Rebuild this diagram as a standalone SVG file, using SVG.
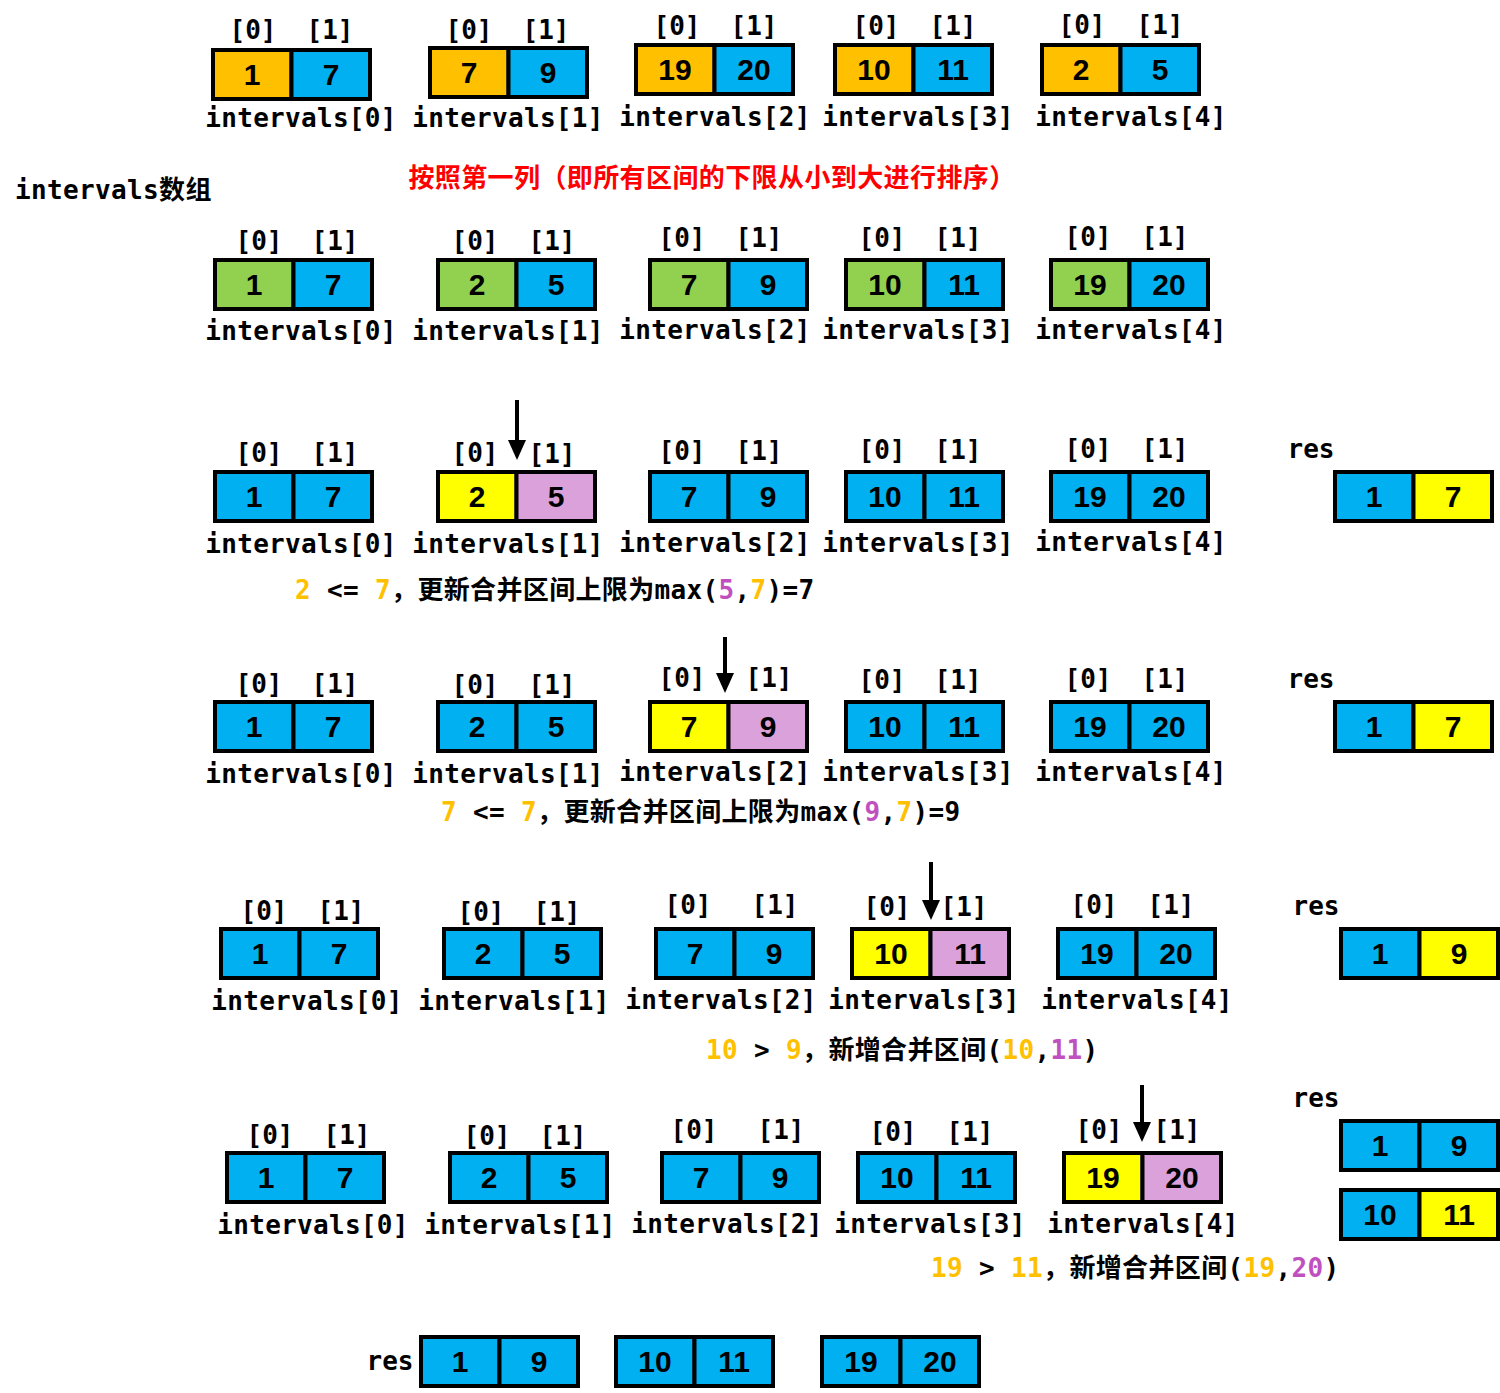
<svg xmlns="http://www.w3.org/2000/svg" width="1500" height="1393" viewBox="0 0 1500 1393">
<style>
text{font-family:"DejaVu Sans Mono","Noto Sans CJK SC",monospace;font-weight:bold;fill:#000}
.idx{font-size:26px;text-anchor:middle}
.name{font-size:26px;text-anchor:middle;letter-spacing:0.3px}
.num{font-family:"Liberation Sans","Noto Sans",sans-serif;font-size:30px;text-anchor:middle}
.cap{font-size:26px;letter-spacing:0.35px}
.red{font-family:"Noto Sans CJK SC",sans-serif;font-size:26px;fill:#FF0000;text-anchor:middle;letter-spacing:0.4px}
.c{stroke:#000;stroke-width:4}
.o{fill:#FFC000}.b{fill:#00B0F0}.g{fill:#92D050}.y{fill:#FFFF00}.p{fill:#DBA1DB}
.ot{fill:#FFC000}.pt{fill:#C050C0}
.arrow{stroke:#000;stroke-width:4;fill:none}
</style>
<defs>
<marker id="ah" viewBox="0 0 20 18" refX="8" refY="9" markerWidth="20" markerHeight="18" markerUnits="userSpaceOnUse" orient="auto">
<path d="M0,0 L20,9 L0,18 z" fill="#000"/>
</marker>
</defs>
<rect width="1500" height="1393" fill="#fff"/>

<text id="title" class="cap" x="15" y="199">intervals数组</text>
<text id="sort-note" class="red" x="712" y="187">按照第一列（即所有区间的下限从小到大进行排序）</text>

<!-- Row 1 -->
<g id="r1-i0"><rect class="c o" x="213" y="50" width="78.5" height="49"/><rect class="c b" x="291.5" y="50" width="78.5" height="49"/>
<text class="num" x="252" y="85">1</text><text class="num" x="331" y="85">7</text>
<text class="idx" x="253" y="39">[0]</text><text class="idx" x="330" y="39">[1]</text><text class="name" x="301" y="127">intervals[0]</text></g>
<g id="r1-i1"><rect class="c o" x="430" y="48" width="78.5" height="49"/><rect class="c b" x="508.5" y="48" width="78.5" height="49"/>
<text class="num" x="469" y="83">7</text><text class="num" x="548" y="83">9</text>
<text class="idx" x="469" y="39">[0]</text><text class="idx" x="546" y="39">[1]</text><text class="name" x="508" y="127">intervals[1]</text></g>
<g id="r1-i2"><rect class="c o" x="636" y="45" width="78.5" height="49"/><rect class="c b" x="714.5" y="45" width="78.5" height="49"/>
<text class="num" x="675" y="80">19</text><text class="num" x="754" y="80">20</text>
<text class="idx" x="677" y="35">[0]</text><text class="idx" x="754" y="35">[1]</text><text class="name" x="715" y="126">intervals[2]</text></g>
<g id="r1-i3"><rect class="c o" x="835" y="45" width="78.5" height="49"/><rect class="c b" x="913.5" y="45" width="78.5" height="49"/>
<text class="num" x="874" y="80">10</text><text class="num" x="953" y="80">11</text>
<text class="idx" x="876" y="35">[0]</text><text class="idx" x="953" y="35">[1]</text><text class="name" x="918" y="126">intervals[3]</text></g>
<g id="r1-i4"><rect class="c o" x="1042" y="45" width="78.5" height="49"/><rect class="c b" x="1120.5" y="45" width="78.5" height="49"/>
<text class="num" x="1081" y="80">2</text><text class="num" x="1160" y="80">5</text>
<text class="idx" x="1082" y="34">[0]</text><text class="idx" x="1160" y="34">[1]</text><text class="name" x="1131" y="126">intervals[4]</text></g>

<!-- Row 2 (sorted) -->
<g id="r2-i0"><rect class="c g" x="215" y="260" width="78.5" height="49"/><rect class="c b" x="293.5" y="260" width="78.5" height="49"/>
<text class="num" x="254" y="295">1</text><text class="num" x="333" y="295">7</text>
<text class="idx" x="259" y="250">[0]</text><text class="idx" x="335" y="250">[1]</text><text class="name" x="301" y="340">intervals[0]</text></g>
<g id="r2-i1"><rect class="c g" x="438" y="260" width="78.5" height="49"/><rect class="c b" x="516.5" y="260" width="78.5" height="49"/>
<text class="num" x="477" y="295">2</text><text class="num" x="556" y="295">5</text>
<text class="idx" x="475" y="250">[0]</text><text class="idx" x="552" y="250">[1]</text><text class="name" x="508" y="340">intervals[1]</text></g>
<g id="r2-i2"><rect class="c g" x="650" y="260" width="78.5" height="49"/><rect class="c b" x="728.5" y="260" width="78.5" height="49"/>
<text class="num" x="689" y="295">7</text><text class="num" x="768" y="295">9</text>
<text class="idx" x="682" y="247">[0]</text><text class="idx" x="759" y="247">[1]</text><text class="name" x="715" y="339">intervals[2]</text></g>
<g id="r2-i3"><rect class="c g" x="846" y="260" width="78.5" height="49"/><rect class="c b" x="924.5" y="260" width="78.5" height="49"/>
<text class="num" x="885" y="295">10</text><text class="num" x="964" y="295">11</text>
<text class="idx" x="882" y="247">[0]</text><text class="idx" x="958" y="247">[1]</text><text class="name" x="918" y="339">intervals[3]</text></g>
<g id="r2-i4"><rect class="c g" x="1051" y="260" width="78.5" height="49"/><rect class="c b" x="1129.5" y="260" width="78.5" height="49"/>
<text class="num" x="1090" y="295">19</text><text class="num" x="1169" y="295">20</text>
<text class="idx" x="1088" y="246">[0]</text><text class="idx" x="1165" y="246">[1]</text><text class="name" x="1131" y="339">intervals[4]</text></g>

<!-- Row 3 -->
<g id="r3-i0"><rect class="c b" x="215" y="472" width="78.5" height="49"/><rect class="c b" x="293.5" y="472" width="78.5" height="49"/>
<text class="num" x="254" y="507">1</text><text class="num" x="333" y="507">7</text>
<text class="idx" x="259" y="462">[0]</text><text class="idx" x="335" y="462">[1]</text><text class="name" x="301" y="553">intervals[0]</text></g>
<g id="r3-i1"><rect class="c y" x="438" y="472" width="78.5" height="49"/><rect class="c p" x="516.5" y="472" width="78.5" height="49"/>
<text class="num" x="477" y="507">2</text><text class="num" x="556" y="507">5</text>
<text class="idx" x="475" y="462">[0]</text><text class="idx" x="552" y="463">[1]</text><text class="name" x="508" y="553">intervals[1]</text></g>
<g id="r3-i2"><rect class="c b" x="650" y="472" width="78.5" height="49"/><rect class="c b" x="728.5" y="472" width="78.5" height="49"/>
<text class="num" x="689" y="507">7</text><text class="num" x="768" y="507">9</text>
<text class="idx" x="682" y="460">[0]</text><text class="idx" x="759" y="460">[1]</text><text class="name" x="715" y="552">intervals[2]</text></g>
<g id="r3-i3"><rect class="c b" x="846" y="472" width="78.5" height="49"/><rect class="c b" x="924.5" y="472" width="78.5" height="49"/>
<text class="num" x="885" y="507">10</text><text class="num" x="964" y="507">11</text>
<text class="idx" x="882" y="459">[0]</text><text class="idx" x="958" y="459">[1]</text><text class="name" x="918" y="552">intervals[3]</text></g>
<g id="r3-i4"><rect class="c b" x="1051" y="472" width="78.5" height="49"/><rect class="c b" x="1129.5" y="472" width="78.5" height="49"/>
<text class="num" x="1090" y="507">19</text><text class="num" x="1169" y="507">20</text>
<text class="idx" x="1088" y="458">[0]</text><text class="idx" x="1165" y="458">[1]</text><text class="name" x="1131" y="551">intervals[4]</text></g>
<g id="r3-res"><text class="idx" x="1311" y="458">res</text>
<rect class="c b" x="1335" y="472" width="78.5" height="49"/><rect class="c y" x="1413.5" y="472" width="78.5" height="49"/>
<text class="num" x="1374" y="507">1</text><text class="num" x="1453" y="507">7</text></g>
<text id="r3-cap" class="cap" x="295" y="599"><tspan class="ot">2</tspan> &lt;= <tspan class="ot">7</tspan>，更新合并区间上限为max(<tspan class="pt">5</tspan>,<tspan class="ot">7</tspan>)=7</text>

<!-- Row 4 -->
<g id="r4-i0"><rect class="c b" x="215" y="702" width="78.5" height="49"/><rect class="c b" x="293.5" y="702" width="78.5" height="49"/>
<text class="num" x="254" y="737">1</text><text class="num" x="333" y="737">7</text>
<text class="idx" x="259" y="693">[0]</text><text class="idx" x="335" y="693">[1]</text><text class="name" x="301" y="783">intervals[0]</text></g>
<g id="r4-i1"><rect class="c b" x="438" y="702" width="78.5" height="49"/><rect class="c b" x="516.5" y="702" width="78.5" height="49"/>
<text class="num" x="477" y="737">2</text><text class="num" x="556" y="737">5</text>
<text class="idx" x="475" y="694">[0]</text><text class="idx" x="552" y="694">[1]</text><text class="name" x="508" y="783">intervals[1]</text></g>
<g id="r4-i2"><rect class="c y" x="650" y="702" width="78.5" height="49"/><rect class="c p" x="728.5" y="702" width="78.5" height="49"/>
<text class="num" x="689" y="737">7</text><text class="num" x="768" y="737">9</text>
<text class="idx" x="682" y="687">[0]</text><text class="idx" x="769" y="687">[1]</text><text class="name" x="715" y="781">intervals[2]</text></g>
<g id="r4-i3"><rect class="c b" x="846" y="702" width="78.5" height="49"/><rect class="c b" x="924.5" y="702" width="78.5" height="49"/>
<text class="num" x="885" y="737">10</text><text class="num" x="964" y="737">11</text>
<text class="idx" x="882" y="689">[0]</text><text class="idx" x="958" y="689">[1]</text><text class="name" x="918" y="781">intervals[3]</text></g>
<g id="r4-i4"><rect class="c b" x="1051" y="702" width="78.5" height="49"/><rect class="c b" x="1129.5" y="702" width="78.5" height="49"/>
<text class="num" x="1090" y="737">19</text><text class="num" x="1169" y="737">20</text>
<text class="idx" x="1088" y="688">[0]</text><text class="idx" x="1165" y="688">[1]</text><text class="name" x="1131" y="781">intervals[4]</text></g>
<g id="r4-res"><text class="idx" x="1311" y="688">res</text>
<rect class="c b" x="1335" y="702" width="78.5" height="49"/><rect class="c y" x="1413.5" y="702" width="78.5" height="49"/>
<text class="num" x="1374" y="737">1</text><text class="num" x="1453" y="737">7</text></g>
<text id="r4-cap" class="cap" x="441" y="821"><tspan class="ot">7</tspan> &lt;= <tspan class="ot">7</tspan>，更新合并区间上限为max(<tspan class="pt">9</tspan>,<tspan class="ot">7</tspan>)=9</text>

<!-- Row 5 -->
<g id="r5-i0"><rect class="c b" x="221" y="929" width="78.5" height="49"/><rect class="c b" x="299.5" y="929" width="78.5" height="49"/>
<text class="num" x="260" y="964">1</text><text class="num" x="339" y="964">7</text>
<text class="idx" x="264" y="920">[0]</text><text class="idx" x="341" y="920">[1]</text><text class="name" x="307" y="1010">intervals[0]</text></g>
<g id="r5-i1"><rect class="c b" x="444" y="929" width="78.5" height="49"/><rect class="c b" x="522.5" y="929" width="78.5" height="49"/>
<text class="num" x="483" y="964">2</text><text class="num" x="562" y="964">5</text>
<text class="idx" x="481" y="921">[0]</text><text class="idx" x="557" y="921">[1]</text><text class="name" x="514" y="1010">intervals[1]</text></g>
<g id="r5-i2"><rect class="c b" x="656" y="929" width="78.5" height="49"/><rect class="c b" x="734.5" y="929" width="78.5" height="49"/>
<text class="num" x="695" y="964">7</text><text class="num" x="774" y="964">9</text>
<text class="idx" x="688" y="914">[0]</text><text class="idx" x="775" y="914">[1]</text><text class="name" x="721" y="1009">intervals[2]</text></g>
<g id="r5-i3"><rect class="c y" x="852" y="929" width="78.5" height="49"/><rect class="c p" x="930.5" y="929" width="78.5" height="49"/>
<text class="num" x="891" y="964">10</text><text class="num" x="970" y="964">11</text>
<text class="idx" x="887" y="916">[0]</text><text class="idx" x="964" y="916">[1]</text><text class="name" x="924" y="1009">intervals[3]</text></g>
<g id="r5-i4"><rect class="c b" x="1058" y="929" width="78.5" height="49"/><rect class="c b" x="1136.5" y="929" width="78.5" height="49"/>
<text class="num" x="1097" y="964">19</text><text class="num" x="1176" y="964">20</text>
<text class="idx" x="1094" y="914">[0]</text><text class="idx" x="1171" y="914">[1]</text><text class="name" x="1137" y="1009">intervals[4]</text></g>
<g id="r5-res"><text class="idx" x="1316" y="915">res</text>
<rect class="c b" x="1341" y="929" width="78.5" height="49"/><rect class="c y" x="1419.5" y="929" width="78.5" height="49"/>
<text class="num" x="1380" y="964">1</text><text class="num" x="1459" y="964">9</text></g>
<text id="r5-cap" class="cap" x="706" y="1059"><tspan class="ot">10</tspan> &gt; <tspan class="ot">9</tspan>，新增合并区间(<tspan class="ot">10</tspan>,<tspan class="pt">11</tspan>)</text>

<!-- Row 6 -->
<g id="r6-i0"><rect class="c b" x="227" y="1153" width="78.5" height="49"/><rect class="c b" x="305.5" y="1153" width="78.5" height="49"/>
<text class="num" x="266" y="1188">1</text><text class="num" x="345" y="1188">7</text>
<text class="idx" x="270" y="1144">[0]</text><text class="idx" x="347" y="1144">[1]</text><text class="name" x="313" y="1234">intervals[0]</text></g>
<g id="r6-i1"><rect class="c b" x="450" y="1153" width="78.5" height="49"/><rect class="c b" x="528.5" y="1153" width="78.5" height="49"/>
<text class="num" x="489" y="1188">2</text><text class="num" x="568" y="1188">5</text>
<text class="idx" x="487" y="1145">[0]</text><text class="idx" x="563" y="1145">[1]</text><text class="name" x="520" y="1234">intervals[1]</text></g>
<g id="r6-i2"><rect class="c b" x="662" y="1153" width="78.5" height="49"/><rect class="c b" x="740.5" y="1153" width="78.5" height="49"/>
<text class="num" x="701" y="1188">7</text><text class="num" x="780" y="1188">9</text>
<text class="idx" x="694" y="1139">[0]</text><text class="idx" x="781" y="1139">[1]</text><text class="name" x="727" y="1233">intervals[2]</text></g>
<g id="r6-i3"><rect class="c b" x="858" y="1153" width="78.5" height="49"/><rect class="c b" x="936.5" y="1153" width="78.5" height="49"/>
<text class="num" x="897" y="1188">10</text><text class="num" x="976" y="1188">11</text>
<text class="idx" x="893" y="1141">[0]</text><text class="idx" x="970" y="1141">[1]</text><text class="name" x="930" y="1233">intervals[3]</text></g>
<g id="r6-i4"><rect class="c y" x="1064" y="1153" width="78.5" height="49"/><rect class="c p" x="1142.5" y="1153" width="78.5" height="49"/>
<text class="num" x="1103" y="1188">19</text><text class="num" x="1182" y="1188">20</text>
<text class="idx" x="1099" y="1139">[0]</text><text class="idx" x="1177" y="1139">[1]</text><text class="name" x="1143" y="1233">intervals[4]</text></g>
<g id="r6-res"><text class="idx" x="1316" y="1107">res</text>
<rect class="c b" x="1341" y="1121" width="78.5" height="49"/><rect class="c b" x="1419.5" y="1121" width="78.5" height="49"/>
<text class="num" x="1380" y="1156">1</text><text class="num" x="1459" y="1156">9</text>
<rect class="c b" x="1341" y="1190" width="78.5" height="49"/><rect class="c y" x="1419.5" y="1190" width="78.5" height="49"/>
<text class="num" x="1380" y="1225">10</text><text class="num" x="1459" y="1225">11</text></g>
<text id="r6-cap" class="cap" x="931" y="1277"><tspan class="ot">19</tspan> &gt; <tspan class="ot">11</tspan>，新增合并区间(<tspan class="ot">19</tspan>,<tspan class="pt">20</tspan>)</text>

<!-- Final result -->
<g id="final-res"><text class="idx" x="390" y="1370">res</text>
<rect class="c b" x="421" y="1337" width="78.5" height="49"/><rect class="c b" x="499.5" y="1337" width="78.5" height="49"/>
<text class="num" x="460" y="1372">1</text><text class="num" x="539" y="1372">9</text>
<rect class="c b" x="616" y="1337" width="78.5" height="49"/><rect class="c b" x="694.5" y="1337" width="78.5" height="49"/>
<text class="num" x="655" y="1372">10</text><text class="num" x="734" y="1372">11</text>
<rect class="c b" x="822" y="1337" width="78.5" height="49"/><rect class="c b" x="900.5" y="1337" width="78.5" height="49"/>
<text class="num" x="861" y="1372">19</text><text class="num" x="940" y="1372">20</text></g>

<g id="connectors">
<line class="arrow" x1="517" y1="400" x2="517" y2="448" marker-end="url(#ah)"/>
<line class="arrow" x1="725" y1="637" x2="725" y2="681" marker-end="url(#ah)"/>
<line class="arrow" x1="931" y1="862" x2="931" y2="908" marker-end="url(#ah)"/>
<line class="arrow" x1="1142" y1="1085" x2="1142" y2="1130" marker-end="url(#ah)"/>
</g>
</svg>
